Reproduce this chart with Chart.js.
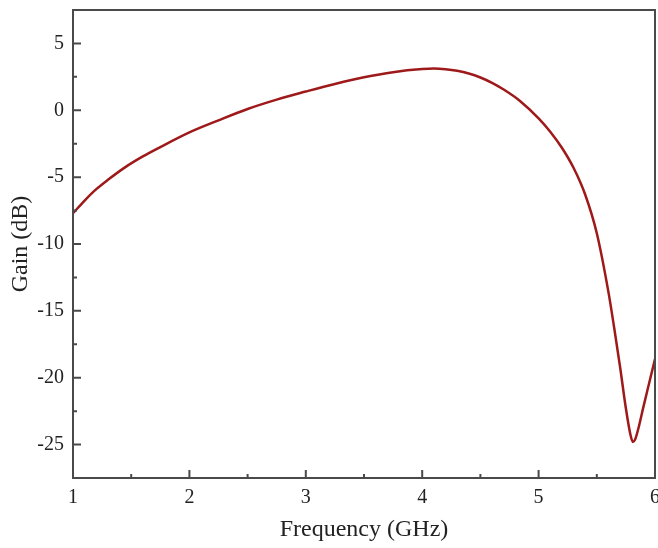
<!DOCTYPE html>
<html>
<head>
<meta charset="utf-8">
<script src="https://cdn.jsdelivr.net/npm/chart.js@4.4.0/dist/chart.umd.min.js"></script>
<style>
  html, body { margin: 0; padding: 0; background: #fff; }
  #wrap { width: 658px; height: 548px; }
</style>
</head>
<body>
<div id="wrap"><canvas id="chart"></canvas></div>
<script>
// Gain vs frequency
const freq = [1.0, 1.1, 1.2, 1.3, 1.45, 1.6, 1.75, 2.0, 2.25, 2.5, 2.75, 3.0, 3.25, 3.5, 3.75, 4.0, 4.1,
              4.2, 4.3, 4.4, 4.5, 4.6, 4.7, 4.84, 5.0, 5.1, 5.2, 5.3, 5.4, 5.5, 5.6, 5.65, 5.7, 5.75,
              5.79, 5.81, 5.83, 5.86, 5.9, 5.95, 6.0];
const gain = [-7.7, -6.75, -5.9, -5.2, -4.25, -3.45, -2.75, -1.65, -0.75, 0.1, 0.8, 1.4, 1.97, 2.47, 2.85, 3.08, 3.12,
              3.07, 2.95, 2.75, 2.45, 2.05, 1.55, 0.7, -0.6, -1.6, -2.8, -4.3, -6.3, -9.2, -13.6, -16.3, -19.2, -22.3,
              -24.3, -24.8, -24.6, -23.7, -22.2, -20.4, -18.6];
const xTicks = [1, 2, 3, 4, 5, 6];
const yTicks = [-25, -20, -15, -10, -5, 0, 5];
const xMinor = [1.5, 2.5, 3.5, 4.5, 5.5];
const yMinor = [-27.5, -22.5, -17.5, -12.5, -7.5, -2.5, 2.5];

const axisColor = '#4a4a4a';
const fontFamily = '"Liberation Serif", "Times New Roman", serif';

// frame plus inward ticks, drawn through the scales
const framePlugin = {
    id: 'frame',
    afterDatasetsDraw(chart) {
        const ctx = chart.ctx;
        const a = chart.chartArea;
        const xs = chart.scales.x, ys = chart.scales.y;
        ctx.save();
        ctx.strokeStyle = axisColor;
        ctx.lineWidth = 2;
        ctx.strokeRect(a.left, a.top, a.right - a.left, a.bottom - a.top);
        ctx.beginPath();
        xTicks.forEach(v => {
            const px = xs.getPixelForValue(v);
            ctx.moveTo(px, a.bottom); ctx.lineTo(px, a.bottom - 8);
        });
        xMinor.forEach(v => {
            const px = xs.getPixelForValue(v);
            ctx.moveTo(px, a.bottom); ctx.lineTo(px, a.bottom - 4);
        });
        yTicks.forEach(v => {
            const py = ys.getPixelForValue(v);
            ctx.moveTo(a.left, py); ctx.lineTo(a.left + 8, py);
        });
        yMinor.forEach(v => {
            const py = ys.getPixelForValue(v);
            ctx.moveTo(a.left, py); ctx.lineTo(a.left + 4, py);
        });
        ctx.stroke();
        ctx.restore();
    }
};

new Chart(document.getElementById('chart'), {
    type: 'line',
    data: {
        datasets: [{
            data: freq.map((f, i) => ({ x: f, y: gain[i] })),
            borderColor: '#9e1a1a',
            borderWidth: 2.5,
            pointRadius: 0,
            cubicInterpolationMode: 'monotone',
            fill: false
        }]
    },
    options: {
        responsive: true,
        maintainAspectRatio: false,
        animation: false,
        layout: { padding: { top: 10, right: 3, left: 0, bottom: 0 } },
        plugins: {
            legend: { display: false },
            tooltip: { enabled: false }
        },
        scales: {
            x: {
                type: 'linear',
                min: 1,
                max: 6,
                afterBuildTicks: s => { s.ticks = xTicks.map(v => ({ value: v })); },
                afterFit: s => { s.height = 70; s.paddingLeft = 0; s.paddingRight = 0; },
                grid: { display: false, drawTicks: false },
                border: { display: false },
                ticks: {
                    color: '#222',
                    padding: 8,
                    maxRotation: 0,
                    font: { family: fontFamily, size: 20 }
                },
                title: {
                    display: true,
                    text: 'Frequency (GHz)',
                    color: '#222',
                    padding: { top: 4, bottom: 4 },
                    font: { family: fontFamily, size: 24 }
                }
            },
            y: {
                min: -27.5,
                max: 7.5,
                afterBuildTicks: s => { s.ticks = yTicks.map(v => ({ value: v })); },
                afterFit: s => { s.width = 73; s.paddingTop = 0; s.paddingBottom = 0; },
                grid: { display: false, drawTicks: false },
                border: { display: false },
                ticks: {
                    color: '#222',
                    padding: 9,
                    font: { family: fontFamily, size: 20 }
                },
                title: {
                    display: true,
                    text: 'Gain (dB)',
                    color: '#222',
                    padding: { top: 6, bottom: 4 },
                    font: { family: fontFamily, size: 24 }
                }
            }
        }
    },
    plugins: [framePlugin]
});
</script>
</body>
</html>
